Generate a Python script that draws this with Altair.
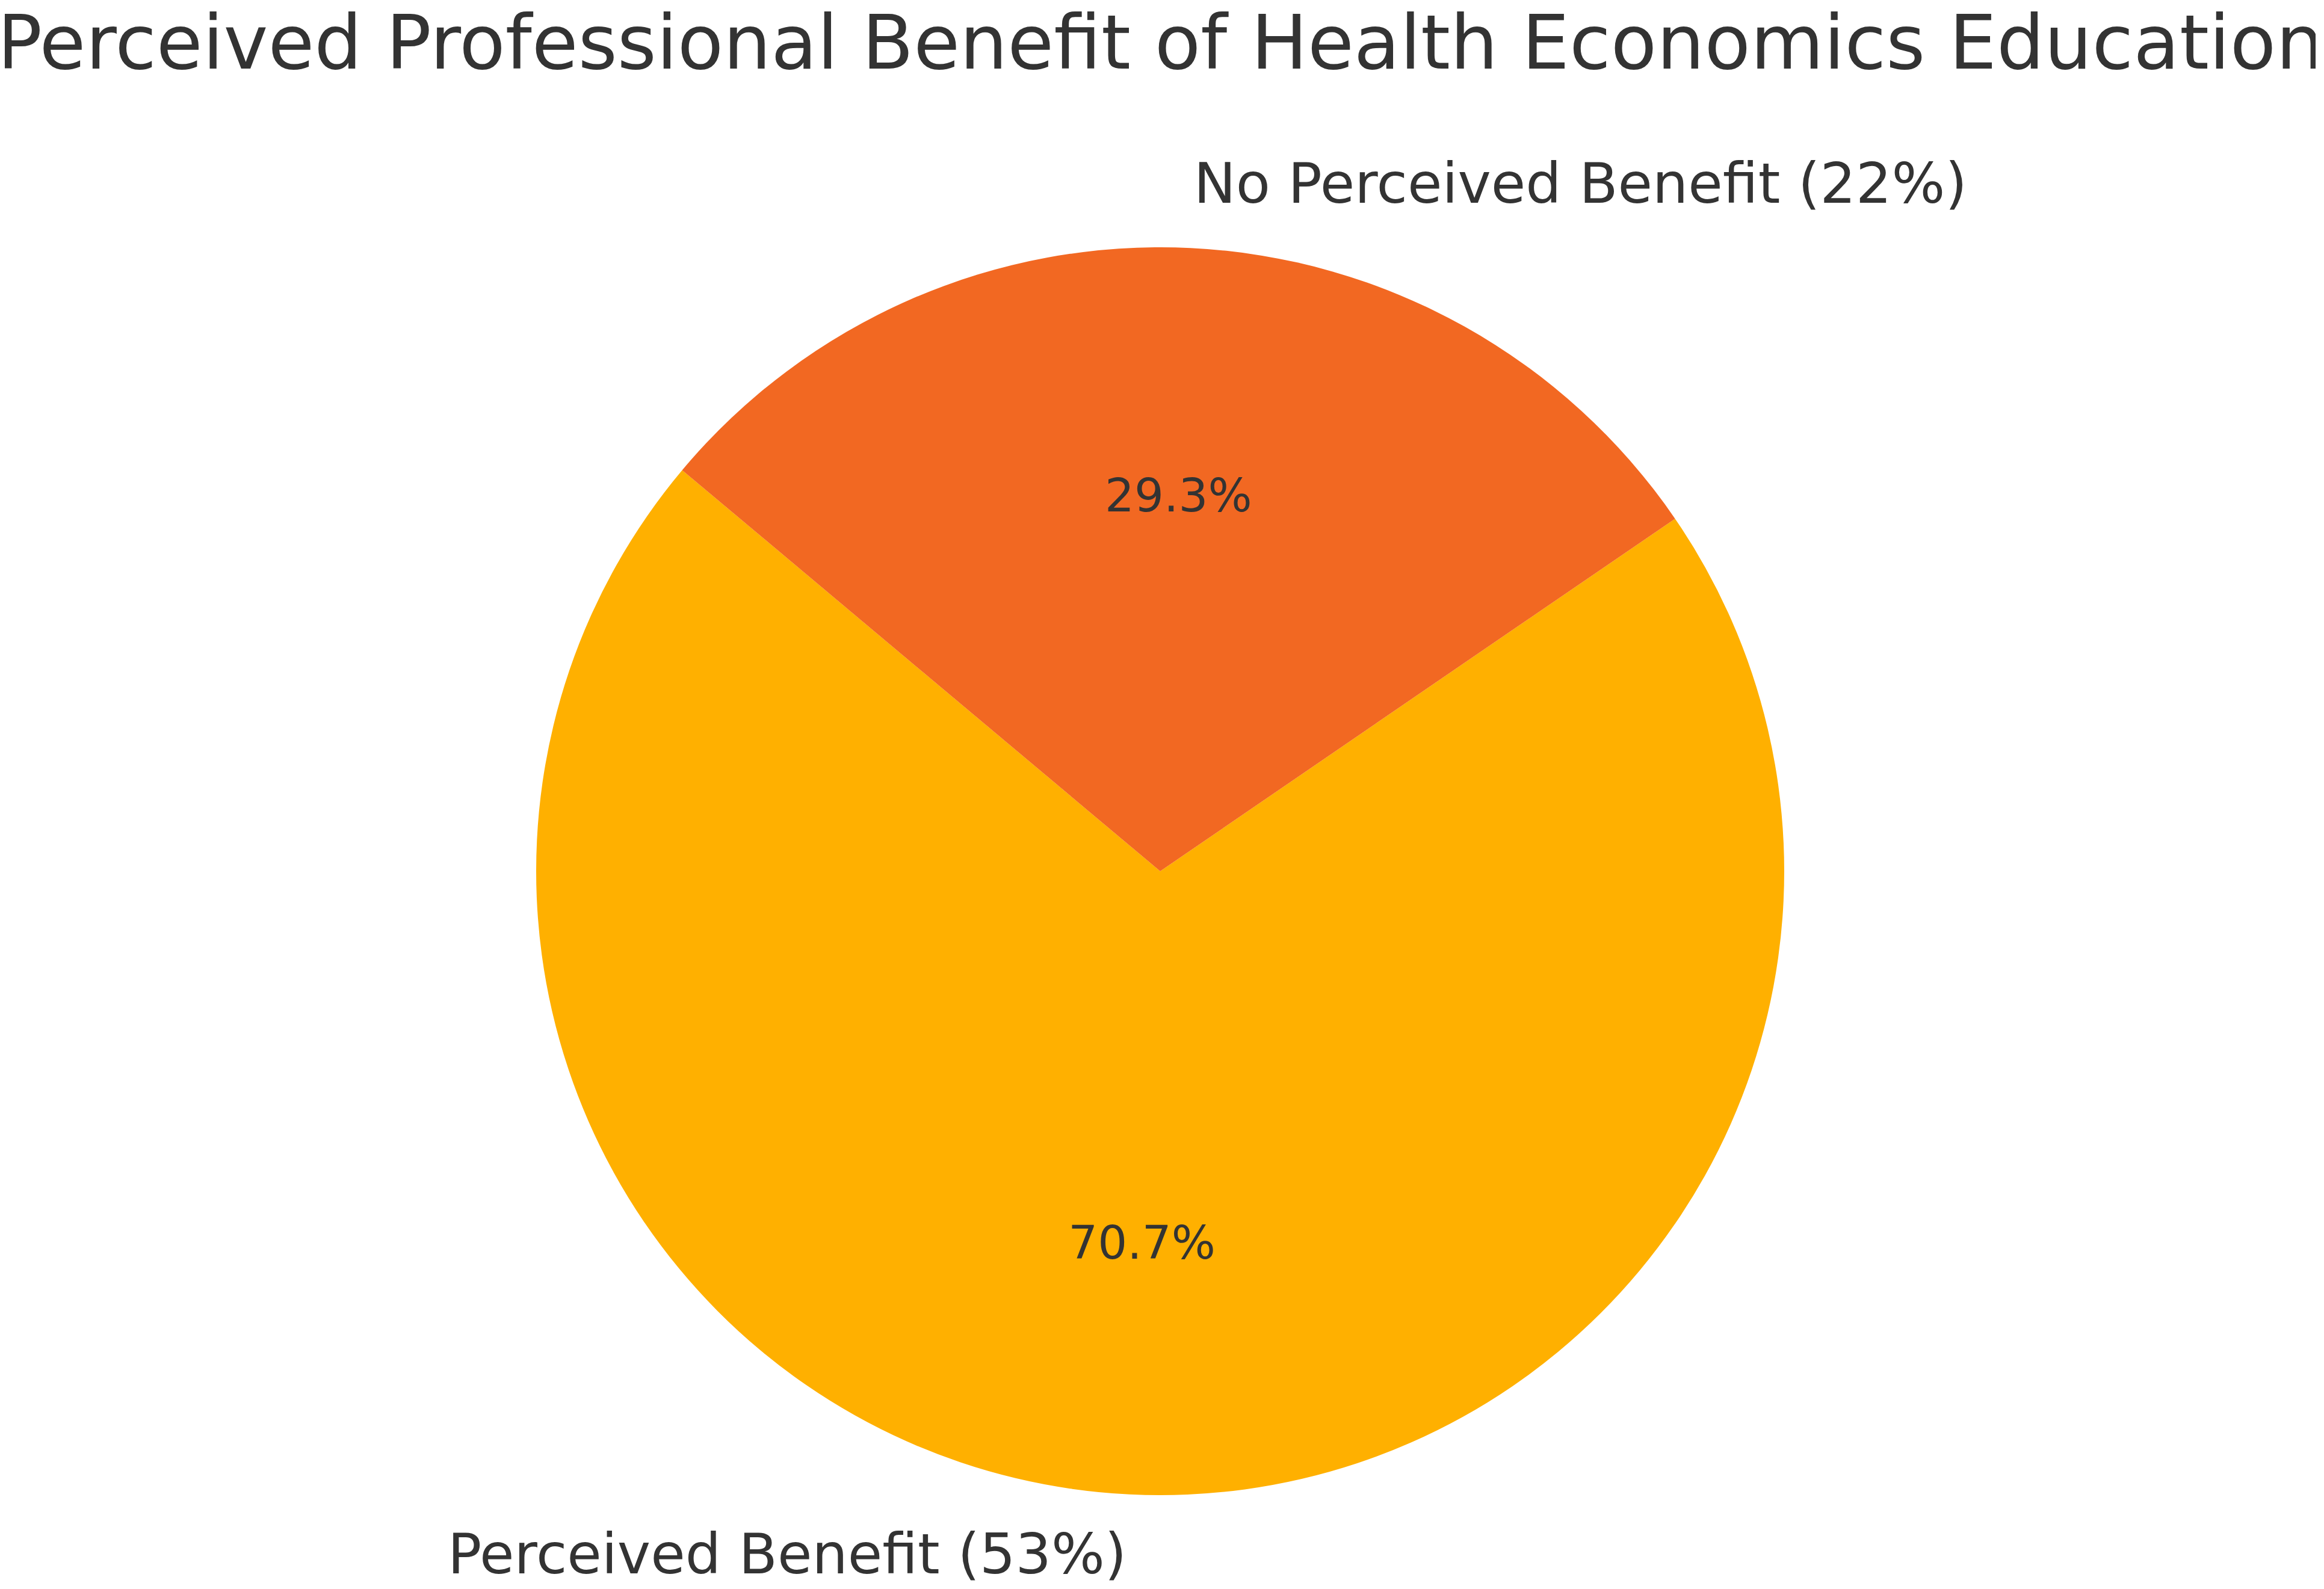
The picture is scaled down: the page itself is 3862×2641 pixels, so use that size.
import math
import altair as alt
import pandas as pd

categories = ["Perceived Benefit", "No Perceived Benefit"]
values = [53, 22]
labels = ["Perceived Benefit (53%)", "No Perceived Benefit (22%)"]
colors = ["#FFB000", "#F26822"]
title_text = "Perceived Professional Benefit of Health Economics Education"

total = sum(values)
df = pd.DataFrame({
    "category": categories,
    "value": values,
    "label": labels,
    "ord": list(range(len(categories))),
    "pct": [f"{v / total * 100:.1f}%" for v in values],
})

# matplotlib-style startangle=140 (counter-clockwise) converted to Vega's clockwise-from-top
start_deg = 90 - 140 - values[0] / total * 360 + 360
a0 = math.radians(start_deg)
theta_scale = alt.Scale(domain=[0, total], range=[a0, a0 + 2 * math.pi])

R = 1037
FONT = "DejaVu Sans"
TXT = "#333333"

base = alt.Chart(df).transform_stack(
    stack="value", groupby=[], as_=["s0", "s1"], sort=[alt.SortField("ord")]
).transform_calculate(mid="(datum.s0 + datum.s1) / 2")

arcs = base.mark_arc(outerRadius=R, stroke=None).encode(
    theta=alt.Theta("s0:Q", scale=theta_scale),
    theta2="s1:Q",
    color=alt.Color("category:N", scale=alt.Scale(domain=categories, range=colors), legend=None),
)

lab_left = base.transform_filter(alt.datum.ord == 0).mark_text(
    radius=R * 1.1, align="right", baseline="middle", fontSize=93.5, font=FONT, color=TXT
).encode(theta=alt.Theta("mid:Q", scale=theta_scale), text="label:N")

lab_right = base.transform_filter(alt.datum.ord == 1).mark_text(
    radius=R * 1.1, align="left", baseline="middle", fontSize=93.5, font=FONT, color=TXT
).encode(theta=alt.Theta("mid:Q", scale=theta_scale), text="label:N")

pcts = base.mark_text(
    radius=R * 0.6, align="center", baseline="middle", fontSize=77, font=FONT, color=TXT
).encode(theta=alt.Theta("mid:Q", scale=theta_scale), text="pct:N")

chart = alt.layer(arcs, lab_left, lab_right, pcts).properties(
    width=3840,
    height=2380,
    autosize="none",
    padding={"top": 250, "left": 0, "right": 0, "bottom": 0},
    title=alt.TitleParams(
        title_text, fontSize=125, font=FONT, fontWeight="normal", color=TXT,
        anchor="middle", frame="group", offset=118,
    ),
).configure_view(stroke=None).configure(background="white")

chart.save("out.html", embed_options={"renderer": "svg", "actions": False})
